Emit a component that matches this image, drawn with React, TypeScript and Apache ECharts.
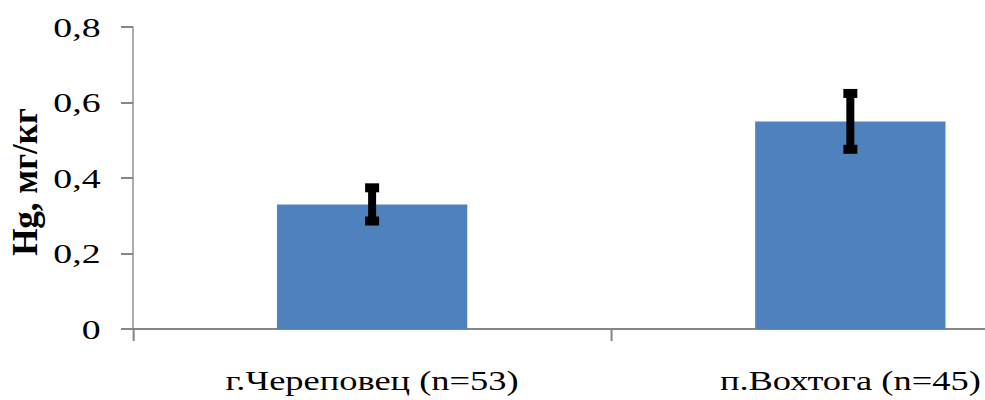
import React, { useEffect, useRef } from "react";
import * as echarts from "echarts";

const categories = ["г.Череповец (n=53)", "п.Вохтога (n=45)"];
const means = [0.33, 0.55];
const errors = [0.044, 0.074];
const yMin = 0;
const yMax = 0.8;
const yInterval = 0.2;
const yName = "Hg, мг/кг";

const S = 1.35;
const H = 400;
const PLOT_LEFT = 133;
const PLOT_RIGHT = 1089;
const W = Math.round(PLOT_RIGHT / S);

export default function App() {
  const ref = useRef<HTMLDivElement>(null);
  useEffect(() => {
    if (!ref.current) return;
    const chart = echarts.init(ref.current, undefined, { renderer: "svg" });
    const serif = "Liberation Serif, Times New Roman, serif";
    const axisColor = "#868686";
    chart.setOption({
      animation: false,
      backgroundColor: "#ffffff",
      grid: { left: PLOT_LEFT / S, right: 0, top: 27, bottom: 71 },
      xAxis: {
        type: "category",
        data: categories,
        boundaryGap: true,
        axisLine: { show: true, lineStyle: { color: axisColor, width: 2 } },
        axisTick: { show: true, alignWithLabel: false, length: 12, lineStyle: { color: axisColor, width: 1.5 } },
        axisLabel: { color: "#000", fontFamily: serif, fontSize: 27, margin: 38, interval: 0 },
        splitLine: { show: false },
      },
      yAxis: {
        type: "value",
        min: yMin,
        max: yMax,
        interval: yInterval,
        axisLine: { show: true, lineStyle: { color: axisColor, width: 1 } },
        axisTick: { show: true, length: 12 / S, lineStyle: { color: axisColor, width: 2 } },
        axisLabel: {
          color: "#000",
          fontFamily: serif,
          fontSize: 28,
          margin: 24,
          formatter: (v: number) => (v === 0 ? "0" : v.toFixed(1).replace(".", ",")),
        },
        splitLine: { show: false },
      },
      graphic: [
        {
          type: "text",
          x: 25 / S,
          y: 182,
          rotation: Math.PI / 2,
          scaleY: 1 / S,
          style: {
            text: yName,
            fill: "#000",
            fontFamily: serif,
            fontSize: 35,
            fontWeight: "bold",
            align: "center",
            verticalAlign: "middle",
            textAlign: "center",
            textVerticalAlign: "middle",
          },
        },
      ],
      series: [
        {
          type: "bar",
          data: means,
          barWidth: "39.8%",
          itemStyle: { color: "#4F81BD" },
          z: 2,
        },
        {
          type: "custom",
          data: means.map((m, i) => [i, m - errors[i], m + errors[i]]),
          encode: { x: 0, y: [1, 2] },
          z: 5,
          renderItem: (params: any, api: any) => {
            const idx = api.value(0);
            const lo = api.coord([idx, api.value(1)]);
            const hi = api.coord([idx, api.value(2)]);
            const cx = hi[0];
            const lw = 8 / S;
            const cw = 14 / S;
            const ch = 9;
            return {
              type: "group",
              children: [
                { type: "rect", shape: { x: cx - lw / 2, y: hi[1], width: lw, height: lo[1] - hi[1] }, style: { fill: "#000" } },
                { type: "rect", shape: { x: cx - cw / 2, y: hi[1] - ch / 2, width: cw, height: ch }, style: { fill: "#000" } },
                { type: "rect", shape: { x: cx - cw / 2, y: lo[1] - ch / 2, width: cw, height: ch }, style: { fill: "#000" } },
              ],
            };
          },
        },
      ],
    });
    return () => chart.dispose();
  }, []);
  return (
    <div style={{ position: "fixed", left: 0, top: 0, width: 985, height: H, overflow: "hidden", background: "#fff" }}>
      <div
        ref={ref}
        style={{ width: W, height: H, transform: `scaleX(${S})`, transformOrigin: "0 0" }}
      />
    </div>
  );
}
